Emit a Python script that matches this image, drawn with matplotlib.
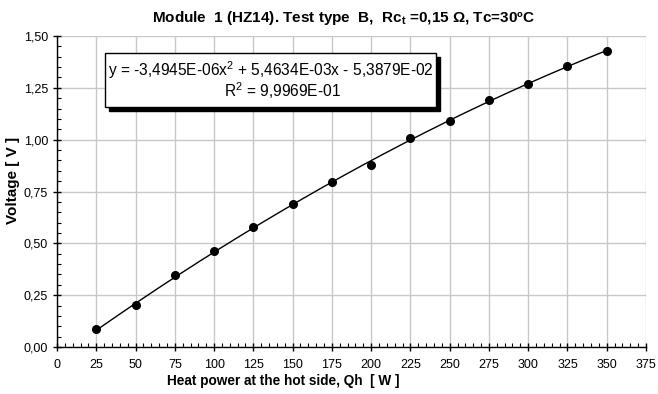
import matplotlib.pyplot as plt
import numpy as np
from matplotlib.patches import Rectangle
from matplotlib.ticker import MultipleLocator, FuncFormatter

plt.rcParams['font.family'] = ['Liberation Sans', 'DejaVu Sans']
plt.rcParams['mathtext.fontset'] = 'custom'
plt.rcParams['mathtext.rm'] = 'Liberation Sans'
plt.rcParams['mathtext.bf'] = 'Liberation Sans:bold'
plt.rcParams['mathtext.default'] = 'regular'

# measured points
heat_power = [25, 50, 75, 100, 125, 150, 175, 200, 225, 250, 275, 300, 325, 350]
voltage = [0.087, 0.203, 0.346, 0.462, 0.578, 0.692, 0.797, 0.877, 1.010, 1.090,
           1.193, 1.269, 1.356, 1.430]

# quadratic trendline coefficients (from the label)
coef = [-3.4945e-06, 5.4634e-03, -5.3879e-02]
r2_label = '9,9969E-01'

fig = plt.figure(figsize=(6.58, 3.94), dpi=100)
ax = fig.add_axes([57/658, 47/394, 589/658, 311/394])

xs = np.linspace(heat_power[0], heat_power[-1], 200)
ax.plot(xs, np.polyval(coef, xs), color='black', linewidth=1.0, zorder=3)
ax.plot(heat_power, voltage, 'o', color='black', markersize=5.5, zorder=4)

ax.set_xlim(0, 375)
ax.set_ylim(0, 1.5)
ax.xaxis.set_major_locator(MultipleLocator(25))
ax.xaxis.set_minor_locator(MultipleLocator(5))
ax.yaxis.set_major_locator(MultipleLocator(0.25))
ax.yaxis.set_minor_locator(MultipleLocator(0.05))
ax.yaxis.set_major_formatter(FuncFormatter(lambda v, p: f'{v:.2f}'.replace('.', ',')))
ax.grid(True, which='major', color='#c8c8c8', linewidth=1.0, zorder=0)
ax.set_axisbelow(True)

for s in ['top', 'right']:
    ax.spines[s].set_visible(False)
for s in ['left', 'bottom']:
    ax.spines[s].set_linewidth(1.0)
ax.tick_params(which='major', direction='inout', length=6, width=1, labelsize=9)
ax.tick_params(axis='x', which='major', pad=6)
ax.tick_params(which='minor', direction='in', length=3, width=0.8)

ax.set_xlabel('Heat power at the hot side, Qh  [ W ]', fontsize=9.8, fontweight='bold')
ax.xaxis.set_label_coords(0.384, -0.088)
ax.set_ylabel('Voltage [ V ]', fontsize=11, fontweight='bold')
ax.yaxis.set_label_coords(-0.063, 0.537)
ax.set_title(r'Module  1 (HZ14). Test type  B,  Rc$_t$ =0,15 $\mathbf{\Omega}$, Tc=30ºC',
             fontsize=11, fontweight='bold', x=0.487, pad=10)

# equation box with shadow
bx0, by0, bw, bh = 0.0815, 0.772, 0.562, 0.173
dx, dy = 4/589, 4/311
ax.add_patch(Rectangle((bx0 + dx, by0 - dy), bw, bh, transform=ax.transAxes,
                       facecolor='black', edgecolor='black', zorder=5, clip_on=False))
ax.add_patch(Rectangle((bx0, by0), bw, bh, transform=ax.transAxes,
                       facecolor='white', edgecolor='black', linewidth=1.0, zorder=6, clip_on=False))
ax.text(bx0 + bw/2, by0 + bh*0.68,
        'y = -3,4945E-06x$^2$ + 5,4634E-03x - 5,3879E-02',
        transform=ax.transAxes, ha='center', va='center', fontsize=11.2, zorder=7)
ax.text(bx0 + bw/2 + 0.02, by0 + bh*0.30, 'R$^2$ = ' + r2_label,
        transform=ax.transAxes, ha='center', va='center', fontsize=11.2, zorder=7)

fig.savefig('out.png', dpi=100)
